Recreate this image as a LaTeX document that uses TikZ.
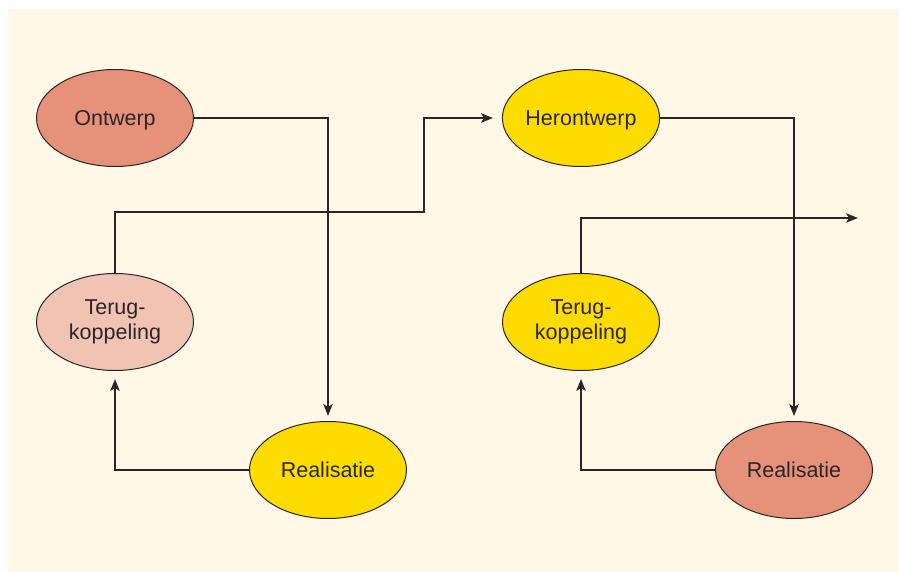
\documentclass[tikz,border=0pt]{standalone}
\usepackage{fontspec}
\setmainfont{Liberation Sans}
\usetikzlibrary{arrows.meta,shapes.geometric}
\definecolor{cream}{HTML}{FFF8E7}
\definecolor{salmon}{HTML}{E6917A}
\definecolor{sunny}{HTML}{FFDC00}
\definecolor{blush}{HTML}{F0C3B3}
\definecolor{inkc}{HTML}{2B2626}
\tikzset{
  oval/.style={ellipse, draw=inkc, line width=1pt, minimum width=157pt, minimum height=97pt,
    inner sep=0pt, align=center, text=inkc, font=\fontsize{21.5}{25}\selectfont},
  oneline/.style={oval, text height=15.4pt, text depth=0pt},
  conn/.style={draw=inkc, line width=1.3pt, -{Stealth[length=12pt,width=9.5pt,inset=3pt]}}
}
\begin{document}
\begin{tikzpicture}[x=1pt,y=-1pt]
\useasboundingbox (0,0) rectangle (899,572);
\fill[cream] (8,9) rectangle (899,572);

\node[oneline, fill=salmon] (ont) at (115,118) {Ontwerp};
\node[oval, fill=blush] (ter1) at (115,322) {Terug-\\koppeling};
\node[oneline, fill=sunny] (rea1) at (328,470) {Realisatie};
\node[oneline, fill=sunny] (her) at (581,118) {Herontwerp};
\node[oval, fill=sunny] (ter2) at (581,322) {Terug-\\koppeling};
\node[oneline, fill=salmon] (rea2) at (794,470) {Realisatie};

\coordinate (k1) at (424,212);
\coordinate (out) at (858,218);

\draw[conn, shorten >=5pt] (ont.east) -| (rea1.north);
\draw[conn, shorten >=8pt] (rea1.west) -| (ter1.south);
\draw[conn, shorten >=9pt] (ter1.north) |- (k1) |- (her.west);
\draw[conn, shorten >=5pt] (her.east) -| (rea2.north);
\draw[conn, shorten >=8pt] (rea2.west) -| (ter2.south);
\draw[conn] (ter2.north) |- (out);
\end{tikzpicture}
\end{document}
